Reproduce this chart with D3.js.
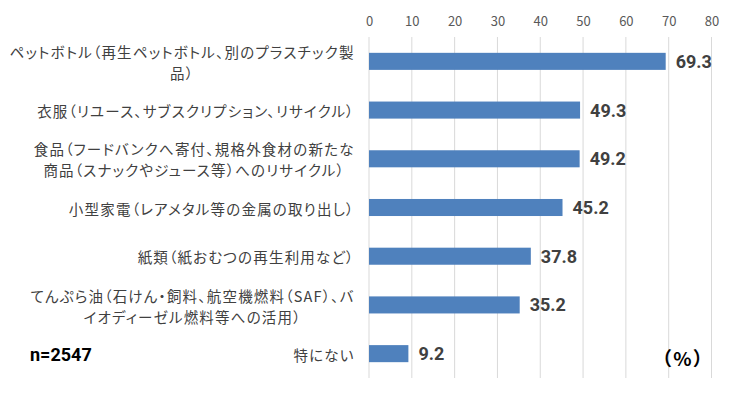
<!DOCTYPE html>
<html>
<head>
<meta charset="utf-8">
<script src="https://cdn.jsdelivr.net/npm/d3@7.9.0/dist/d3.min.js"></script>
<style>
  body { margin: 0; background: #fff; }
  svg { display: block; }
</style>
</head>
<body>
<svg width="740" height="399"></svg>
<script>
// data
const categories = [
  ["ペットボトル（再生ペットボトル、別のプラスチック製", "品）"],
  ["衣服（リユース、サブスクリプション、リサイクル）"],
  ["食品（フードバンクへ寄付、規格外食材の新たな", "商品（スナックやジュース等）へのリサイクル）"],
  ["小型家電（レアメタル等の金属の取り出し）"],
  ["紙類（紙おむつの再生利用など）"],
  ["てんぷら油（石けん・飼料、航空機燃料（SAF）、バ", "イオディーゼル燃料等への活用）"],
  ["特にない"]
];
const values = [69.3, 49.3, 49.2, 45.2, 37.8, 35.2, 9.2];
const xTicks = [0, 10, 20, 30, 40, 50, 60, 70, 80];
const sampleNote = "n=2547";
const unitNote = "（%）";

const svg = d3.select('svg');
const jp = '"Noto Sans CJK JP", "Noto Sans", sans-serif';

let x = d3.scaleLinear().domain([0, 80]).range([369, 711.5]);
let y = d3.scaleBand()
  .domain(d3.range(values.length))
  .range([37, 378])
  .paddingInner(0.65)
  .paddingOuter(0.325);

// gridlines
svg.append('g')
  .selectAll('line')
  .data(xTicks)
  .join('line')
  .attr('x1', d => x(d)).attr('x2', d => x(d))
  .attr('y1', 37).attr('y2', 378)
  .attr('stroke', '#d9d9d9')
  .attr('stroke-width', 1);

// top axis labels
let axis = svg.append('g')
  .attr('transform', 'translate(0,26)')
  .call(d3.axisTop(x).tickValues(xTicks).tickSize(0).tickPadding(0));
axis.select('.domain').remove();
axis.selectAll('text')
  .attr('fill', '#595959')
  .style('font-family', jp)
  .style('font-size', '13px');

// bars
svg.append('g')
  .selectAll('rect')
  .data(values)
  .join('rect')
  .attr('x', x(0))
  .attr('y', (d, i) => y(i))
  .attr('width', d => x(d) - x(0))
  .attr('height', y.bandwidth())
  .attr('fill', '#4f81bd');

// value labels
svg.append('g')
  .selectAll('text')
  .data(values)
  .join('text')
  .attr('x', d => x(d) + 10)
  .attr('y', (d, i) => y(i) + y.bandwidth() / 2)
  .attr('dy', '0.36em')
  .attr('fill', '#404040')
  .style('font-family', 'Roboto, sans-serif')
  .style('font-weight', 'bold')
  .style('font-size', '18px')
  .text(d => d.toFixed(1));

// category labels, lines centred within the block, block right-aligned
const lineH = 21;
const labelRight = 354;
const spacing = 1.2;
let labels = svg.append('g')
  .selectAll('text')
  .data(categories)
  .join('text')
  .attr('text-anchor', 'middle')
  .attr('fill', '#404040')
  .style('font-family', jp)
  .style('font-size', '14.5px')
  .style('letter-spacing', spacing + 'px')
  .style('font-feature-settings', '"palt"');
labels.each(function (lines, i) {
  let t = d3.select(this);
  let cy = y(i) + y.bandwidth() / 2 + 2;
  let top = cy - (lines.length - 1) * lineH / 2;
  let spans = t.selectAll('tspan')
    .data(lines)
    .join('tspan')
    .attr('y', (d, j) => top + j * lineH)
    .attr('dy', '0.35em')
    .text(d => d);
  let maxW = d3.max(spans.nodes(), n => n.getComputedTextLength());
  spans.attr('x', labelRight + spacing / 2 - maxW / 2);
});

// notes
svg.append('text')
  .attr('x', 30).attr('y', 355).attr('dy', '0.36em')
  .attr('fill', '#000')
  .style('font-family', 'Roboto, sans-serif')
  .style('font-weight', 'bold')
  .style('font-size', '18px')
  .text(sampleNote);

svg.append('text')
  .attr('x', 705).attr('y', 359).attr('dy', '0.36em')
  .attr('text-anchor', 'end')
  .attr('fill', '#000')
  .style('font-family', jp)
  .style('font-weight', 'bold')
  .style('font-size', '19px')
  .style('letter-spacing', '2px')
  .style('font-feature-settings', '"palt"')
  .text(unitNote);
</script>
</body>
</html>
